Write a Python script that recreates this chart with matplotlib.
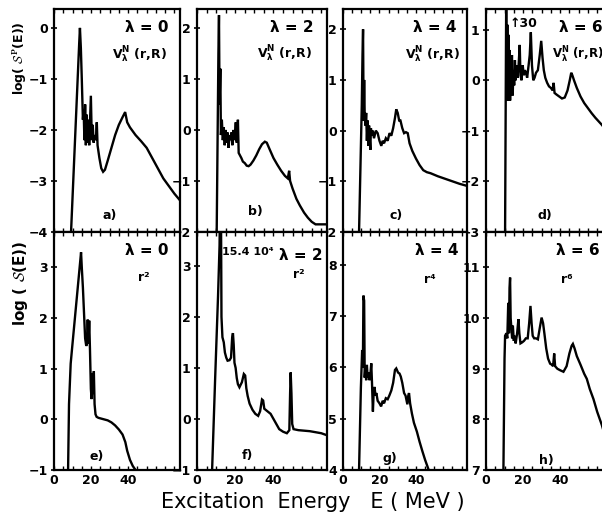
#!/usr/bin/env python3
# -*- coding: utf-8 -*-
"""Strength distributions log(S(E)) vs excitation energy, 8 panels (a-h)."""

import matplotlib
matplotlib.use("Agg")
import matplotlib.pyplot as plt
from matplotlib.ticker import MultipleLocator

W, H = 602, 522

# ---- data (E in MeV, log of strength) ----
a_E = [9.2, 13.6, 14.0, 14.5, 15.0, 15.6, 16.0, 16.4, 16.8, 17.2, 17.6, 18.0, 18.5, 19.0,
       19.9, 20.4, 20.9, 21.4, 22.0, 22.6, 23.1, 23.5, 24.5, 25.5, 26.5, 27.5, 29, 31, 33,
       35, 37, 38.4, 39.5, 41, 44, 47, 50, 53, 56, 59, 62, 65, 68]
a_log = [-4.0, -0.3, 0.0, -0.4, -1.0, -1.8, -1.6, -2.2, -1.5, -2.3, -1.7, -2.25, -1.8, -2.3,
         -1.33, -2.2, -1.9, -2.25, -2.1, -2.2, -1.85, -2.3, -2.55, -2.75, -2.82, -2.78, -2.6,
         -2.35, -2.1, -1.9, -1.75, -1.65, -1.85, -1.95, -2.1, -2.22, -2.35, -2.55, -2.75,
         -2.95, -3.1, -3.25, -3.38]

b_E = [10.3, 11.2, 11.5, 11.8, 12.2, 12.5, 13.0, 13.5, 14.0, 14.5, 15, 15.5, 16, 16.5, 17,
       17.5, 18, 18.5, 19, 19.6, 20.3, 20.8, 21.4, 21.8, 22.5, 23.2, 24, 25, 26, 27, 28,
       29.5, 31, 32.5, 34, 35.5, 36.5, 38, 40, 42, 44, 46, 47.5, 48.2, 48.7, 50, 52, 53.8,
       56, 58, 60, 62, 68]
b_log = [-2.0, 1.5, 2.25, 0.5, 1.2, -0.1, 0.2, -0.2, 0.05, -0.3, 0.0, -0.25, -0.05, -0.35,
         -0.1, -0.2, -0.05, -0.3, 0.0, -0.2, 0.15, -0.25, 0.2, -0.45, -0.5, -0.55, -0.62,
         -0.65, -0.7, -0.71, -0.68, -0.6, -0.5, -0.38, -0.28, -0.23, -0.25, -0.38, -0.55,
         -0.68, -0.8, -0.9, -0.95, -0.8, -1.0, -1.15, -1.35, -1.48, -1.62, -1.72, -1.8,
         -1.85, -1.85]

c_E = [8.8, 10.3, 10.7, 11.0, 11.3, 11.6, 11.9, 12.3, 12.7, 13.1, 13.5, 13.9, 14.3, 14.7,
       15.0, 15.3, 15.8, 16.3, 17, 18, 19, 20, 21, 21.8, 22.5, 23.5, 24.5, 25.5, 26.5,
       27.5, 28.5, 29.2, 30, 30.8, 31.5, 32.5, 33.5, 34.5, 35.5, 36.5, 38, 40, 42, 44, 46,
       48, 52, 56, 60, 64, 67]
c_log = [-2.0, 0.5, 1.5, 2.0, 0.2, 1.0, 0.3, 0.1, 0.35, -0.2, 0.2, -0.3, 0.1, -0.2, -0.38,
         0.05, -0.1, 0.0, -0.15, 0.0, -0.05, -0.2, -0.3, -0.2, -0.25, -0.15, -0.2, -0.05,
         -0.1, 0.05, 0.25, 0.42, 0.35, 0.2, 0.2, 0.05, -0.05, -0.03, -0.05, -0.25, -0.4,
         -0.55, -0.68, -0.78, -0.82, -0.84, -0.9, -0.95, -1.0, -1.05, -1.08]

d_E = [10.3, 10.9, 11.2, 11.5, 11.8, 12.1, 12.4, 12.7, 13.0, 13.3, 13.6, 14.0, 14.4, 14.8,
       15.2, 15.6, 16.0, 16.5, 17.0, 17.6, 18.2, 18.6, 19.2, 19.8, 20.4, 21.0, 21.6, 22.2,
       23.0, 23.6, 24.2, 24.8, 25.5, 26.2, 27, 28, 29, 29.8, 30.5, 31.2, 32, 33, 34, 35,
       36, 36.5, 37, 38, 39.5, 41, 42.5, 44, 45.2, 46.0, 46.6, 47.5, 49, 51, 53, 55, 57,
       59, 61, 62.5, 64, 66, 68]
d_log = [-3.0, 1.6, -0.3, 1.1, -0.4, 0.9, -0.2, 0.6, -0.4, 0.3, -0.1, 0.5, -0.3, 0.2, -0.1,
         0.4, 0.0, 0.3, 0.05, 0.3, 0.7, 0.1, 0.0, 0.3, 0.1, 0.2, 0.15, 0.05, 0.3, 0.5, 0.95,
         0.3, 0.0, 0.05, 0.15, 0.2, 0.5, 0.78, 0.45, 0.2, 0.05, -0.05, -0.12, -0.15, -0.2,
         -0.05, -0.25, -0.28, -0.32, -0.36, -0.34, -0.2, 0.0, 0.15, 0.1, 0.0, -0.15, -0.32,
         -0.45, -0.55, -0.65, -0.74, -0.82, -0.88, -0.95, -1.02, -1.1]

e_E = [7.6, 8.1, 9.0, 9.7, 14.6, 15.0, 15.6, 16.2, 16.8, 17.4, 17.8, 18.2, 18.6, 19.0, 19.4,
       19.9, 20.3, 20.7, 21.1, 21.5, 21.9, 22.4, 23.0, 24, 25, 27, 29, 31, 33, 35, 37,
       38.5, 39.5, 41, 42.5, 44]
e_log = [-1.0, 0.3, 1.1, 1.38, 3.3, 3.0, 2.6, 2.1, 1.6, 1.45, 1.5, 1.97, 1.5, 1.95, 1.4,
         0.6, 0.4, 0.9, 0.5, 0.95, 0.3, 0.1, 0.05, 0.03, 0.02, 0.0, -0.02, -0.06, -0.12,
         -0.2, -0.3, -0.45, -0.62, -0.8, -0.92, -1.0]

f_E = [7.9, 9.5, 11.0, 11.8, 12.1, 12.5, 12.8, 13.3, 14.0, 14.6, 15.3, 16, 17, 17.8, 18.4,
       18.8, 19.2, 19.6, 20.2, 20.8, 21.4, 22.2, 23.5, 24.5, 25.2, 25.8, 26.5, 27.5, 29,
       30.5, 32, 33, 34, 34.6, 35.2, 36.5, 38.5, 40, 41.5, 43, 45, 47, 48.3, 48.7, 49.0,
       49.4, 49.8, 50.5, 53, 56, 59, 62, 65, 68]
f_log = [-1.0, 0.8, 2.4, 3.4, 4.5, 4.5, 2.0, 1.6, 1.5, 1.3, 1.2, 1.14, 1.15, 1.2, 1.6, 1.68,
         1.45, 1.1, 1.0, 0.8, 0.68, 0.62, 0.72, 0.88, 0.85, 0.6, 0.45, 0.3, 0.18, 0.1, 0.06,
         0.15, 0.38, 0.36, 0.2, 0.16, 0.1, 0.0, -0.1, -0.2, -0.25, -0.28, -0.22, 0.5, 0.91,
         0.5, -0.1, -0.2, -0.22, -0.23, -0.24, -0.26, -0.28, -0.32]

g_E = [8.8, 9.8, 10.5, 10.9, 11.2, 11.6, 11.9, 12.3, 12.7, 13.1, 13.5, 14.0, 14.5, 15.0,
       15.5, 15.9, 16.4, 16.8, 17.3, 17.8, 18.3, 19, 20, 20.9, 21.8, 22.5, 23.5, 24.5,
       25.4, 26.5, 27.5, 28.5, 29.2, 30.2, 31, 31.7, 32.5, 33.5, 34.3, 35.3, 35.8, 36.2,
       36.8, 37.8, 38.9, 40.5, 42, 43.5, 45, 46.5, 47]
g_log = [4.0, 5.6, 6.34, 6.0, 7.4, 7.3, 5.8, 6.0, 5.75, 6.05, 5.8, 5.9, 5.75, 5.85, 6.08,
         5.7, 5.14, 5.5, 5.62, 5.45, 5.5, 5.35, 5.3, 5.24, 5.35, 5.3, 5.4, 5.38, 5.45, 5.55,
         5.7, 5.95, 5.98, 5.9, 5.88, 5.82, 5.7, 5.5, 5.45, 5.28, 5.45, 5.5, 5.3, 5.1, 4.92,
         4.75, 4.55, 4.37, 4.2, 4.05, 4.0]

h_E = [9.4, 10.0, 10.3, 11.0, 11.5, 12.0, 12.4, 12.7, 13.0, 13.3, 13.7, 14.1, 14.5, 15.0,
       15.5, 16.0, 16.8, 17.5, 18.0, 18.6, 19.5, 20.5, 21.5, 22.5, 23.3, 24.0, 24.6, 25.2,
       26, 27, 28, 29, 30, 30.8, 31.5, 32.5, 33.5, 34.6, 35.5, 36.2, 36.8, 37.3, 38.5, 40,
       41.8, 43.5, 45, 46.2, 46.9, 47.8, 49, 51, 53, 54.4, 56, 58, 60, 62.5, 64, 66]
h_log = [7.0, 9.2, 9.65, 9.7, 9.6, 10.3, 9.7, 10.6, 10.8, 10.0, 9.8, 9.6, 9.85, 9.55, 9.65,
         9.5, 9.7, 9.98, 9.7, 9.5, 9.52, 9.55, 9.6, 9.6, 9.9, 10.24, 9.9, 9.65, 9.6, 9.6,
         9.58, 9.8, 10.01, 9.9, 9.7, 9.4, 9.2, 9.1, 9.08, 9.05, 9.3, 9.05, 9.0, 8.97, 8.94,
         9.05, 9.3, 9.45, 9.49, 9.4, 9.25, 9.08, 8.9, 8.8, 8.6, 8.4, 8.15, 7.89, 7.7, 7.45]

ylims = {"a": (-4, 0.37), "b": (-2, 2.37), "c": (-2, 2.4), "d": (-3, 1.41),
         "e": (-1, 3.7), "f": (-1, 3.66), "g": (4, 8.64), "h": (7, 11.7)}
yticks = {"a": [-4, -3, -2, -1, 0], "b": [-2, -1, 0, 1, 2], "c": [-2, -1, 0, 1, 2],
          "d": [-3, -2, -1, 0, 1], "e": [-1, 0, 1, 2, 3], "f": [-1, 0, 1, 2, 3],
          "g": [4, 5, 6, 7, 8], "h": [7, 8, 9, 10, 11]}
lambdas = {"a": "λ = 0", "b": "λ = 2", "c": "λ = 4", "d": "λ = 6",
           "e": "λ = 0", "f": "λ = 2", "g": "λ = 4", "h": "λ = 6"}
operators = {"e": "r²", "f": "r²", "g": "r⁴", "h": "r⁶"}
V_LABEL = r"V$^{N}_{\lambda}$ (r,R)"

curves = {"a": (a_E, a_log), "b": (b_E, b_log), "c": (c_E, c_log), "d": (d_E, d_log),
          "e": (e_E, e_log), "f": (f_E, f_log), "g": (g_E, g_log), "h": (h_E, h_log)}

plt.rcParams["font.family"] = ["DejaVu Sans"]
plt.rcParams["font.weight"] = "bold"
plt.rcParams["mathtext.default"] = "bf"

fig = plt.figure(figsize=(W / 100, H / 100), dpi=100)

cols = [(54, 180), (197, 327), (343, 467), (486, 612)]
rows = [(9, 232), (232, 470)]

# text placement (axes fraction)
lam_pos = {"a": (0.74, 0.919), "b": (0.73, 0.919), "c": (0.74, 0.919), "d": (0.75, 0.919),
           "e": (0.74, 0.924), "f": (0.80, 0.903), "g": (0.76, 0.924), "h": (0.73, 0.924)}
op_pos = {"a": (0.46, 0.794), "b": (0.46, 0.80), "c": (0.50, 0.794), "d": (0.52, 0.794),
          "e": (0.71, 0.807), "f": (0.78, 0.82), "g": (0.70, 0.80), "h": (0.64, 0.80)}
let_pos = {"a": (0.44, 0.076), "b": (0.446, 0.09), "c": (0.43, 0.076), "d": (0.47, 0.076),
           "e": (0.34, 0.055), "f": (0.39, 0.063), "g": (0.38, 0.05), "h": (0.48, 0.042)}

for i, key in enumerate("abcdefgh"):
    r, c = divmod(i, 4)
    x0, x1 = cols[c]
    y0, y1 = rows[r]
    ax = fig.add_axes([x0 / W, 1 - y1 / H, (x1 - x0) / W, (y1 - y0) / H])
    E, lg = curves[key]
    ax.plot(E, lg, color="black", lw=1.7, solid_joinstyle="miter")
    ax.set_xlim(0, 68)
    ax.set_ylim(*ylims[key])
    ax.set_yticks(yticks[key])
    ax.set_xticks([0, 20, 40])
    ax.xaxis.set_minor_locator(MultipleLocator(5))
    for s in ax.spines.values():
        s.set_linewidth(1.6)
    ax.tick_params(axis="y", direction="inout", length=5, width=1.2, labelsize=9, pad=2)
    ax.tick_params(axis="x", which="both", direction="in", top=True, length=3,
                   width=1.0, labelsize=9, pad=3)
    if r == 0:
        ax.tick_params(axis="x", labelbottom=False)

    ax.text(*lam_pos[key], lambdas[key], transform=ax.transAxes, ha="center",
            va="center", fontsize=11)
    if r == 0:
        ax.text(*op_pos[key], V_LABEL, transform=ax.transAxes, ha="left",
                va="center", fontsize=8.5 if key == "d" else 9)
    else:
        ax.text(*op_pos[key], operators[key], transform=ax.transAxes, ha="center",
                va="center", fontsize=9)
    ax.text(*let_pos[key], key + ")", transform=ax.transAxes, ha="center",
            va="center", fontsize=9)

    if key == "d":
        ax.text(0.19, 0.935, "↑30", transform=ax.transAxes, ha="left",
                va="center", fontsize=9)
    if key == "f":
        ax.text(0.19, 0.915, "15.4 10⁴", transform=ax.transAxes, ha="left",
                va="center", fontsize=8)

fig.text(20 / W, 1 - 58 / H, r"log( $\mathcal{S}^{P}$(E))", rotation=90,
         ha="center", va="center", fontsize=9, math_fontfamily="cm")
fig.text(20 / W, 1 - 283 / H, r"log ( $\mathcal{S}$(E))", rotation=90,
         ha="center", va="center", fontsize=11, math_fontfamily="cm")
fig.text(313 / W, 1 - 502 / H, "Excitation  Energy   E ( MeV )",
         ha="center", va="center", fontsize=15, fontweight="normal")

fig.savefig("out.png", dpi=100)
